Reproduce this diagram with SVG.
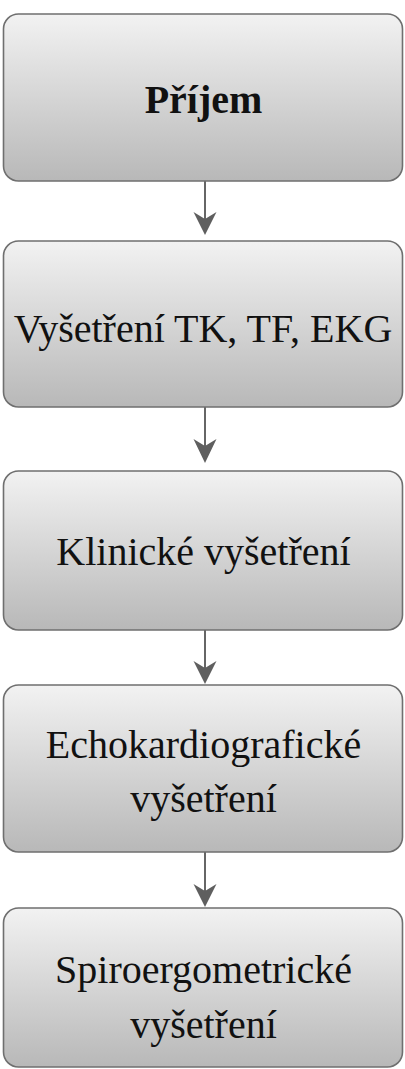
<svg xmlns="http://www.w3.org/2000/svg" width="405" height="1069" viewBox="0 0 405 1069">
  <defs>
    <linearGradient id="g" x1="0" y1="0" x2="0" y2="1">
      <stop offset="0" stop-color="#f2f2f2"/>
      <stop offset="1" stop-color="#b8b8b8"/>
    </linearGradient>
    <style>
      .box { fill: url(#g); stroke: #6f6f6f; stroke-width: 1.6; }
      .t { font-family: "Liberation Serif", "Times New Roman", "DejaVu Serif", serif; font-size: 40px; fill: #111; text-anchor: middle; }
      .b { font-weight: bold; }
      .line { stroke: #666; stroke-width: 2; fill: none; }
      .head { fill: #5f5f5f; }
    </style>
  </defs>
  <rect width="405" height="1069" fill="#fff"/>
  <g id="connectors">
    <line class="line" x1="205" y1="181" x2="205" y2="222"/>
    <path class="head" d="M193.5,212 L205,219 L216.5,212 L205,235 Z"/>
    <line class="line" x1="205" y1="407" x2="205" y2="449"/>
    <path class="head" d="M193.5,439 L205,446 L216.5,439 L205,463 Z"/>
    <line class="line" x1="205" y1="630" x2="205" y2="670"/>
    <path class="head" d="M193.5,661 L205,668 L216.5,661 L205,684 Z"/>
    <line class="line" x1="205" y1="852" x2="205" y2="893"/>
    <path class="head" d="M193.5,884 L205,891 L216.5,884 L205,907 Z"/>
  </g>
  <g id="n1">
    <rect class="box" x="3.5" y="14" width="399" height="167" rx="15"/>
    <text class="t b" x="203.5" y="113">Příjem</text>
  </g>
  <g id="n2">
    <rect class="box" x="3.5" y="241" width="399" height="166" rx="15"/>
    <text class="t" x="203" y="342">Vyšetření TK, TF, EKG</text>
  </g>
  <g id="n3">
    <rect class="box" x="3.5" y="471" width="399" height="159" rx="15"/>
    <text class="t" x="203.5" y="565">Klinické vyšetření</text>
  </g>
  <g id="n4">
    <rect class="box" x="3.5" y="685" width="399" height="167" rx="15"/>
    <text class="t" x="203.5" y="758">Echokardiografické</text>
    <text class="t" x="203.5" y="812">vyšetření</text>
  </g>
  <g id="n5">
    <rect class="box" x="3.5" y="908" width="399" height="159" rx="15"/>
    <text class="t" x="203.5" y="983">Spiroergometrické</text>
    <text class="t" x="203.5" y="1038">vyšetření</text>
  </g>
</svg>
